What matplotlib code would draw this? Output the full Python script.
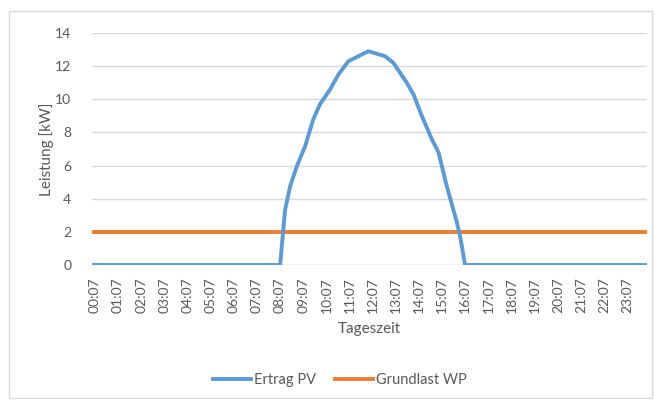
import matplotlib
matplotlib.use("Agg")
import matplotlib.pyplot as plt
from matplotlib.patches import Rectangle
from matplotlib.lines import Line2D

# ---- data (hours of day, kW) ----
pv_hours = [0.0, 8.12, 8.33, 8.55, 8.84, 9.20, 9.55, 9.84, 10.28, 10.64, 11.07,
            11.93, 12.65, 13.01, 13.59, 13.88, 14.24, 14.67, 14.96, 15.32,
            15.75, 15.90, 16.11, 23.95]
pv_kw = [0.0, 0.0, 3.3, 4.75, 5.96, 7.17, 8.79, 9.7, 10.6, 11.5, 12.3,
         12.9, 12.6, 12.2, 11.0, 10.3, 9.0, 7.6, 6.8, 4.75,
         2.6, 1.7, 0.0, 0.0]
wp_hours = [0.0, 23.95]
wp_kw = [2.0, 2.0]

tick_hours = [h + 7 / 60 for h in range(24)]
tick_labels = ["00:07", "01:07", "02:07", "03:07", "04:07", "05:07", "06:07", "07:07",
               "08:07", "09:07", "10:07", "11:07", "12:07", "13:07", "14:07", "15:07",
               "16:07", "17:07", "18:07", "19:07", "20:07", "21:07", "22:07", "23:07"]
y_ticks = [0, 2, 4, 6, 8, 10, 12, 14]

series_names = ["Ertrag PV", "Grundlast WP"]
colors = ["#5B9BD5", "#ED7D31"]

plt.rcParams['font.family'] = ['Lato', 'DejaVu Sans']
W, H = 655, 400
fig = plt.figure(figsize=(W / 100, H / 100), dpi=100)

# outer chart border
fig.patches.append(Rectangle((9 / W, 1 - 398 / H), (652 - 9) / W, (398 - 11) / H,
                             transform=fig.transFigure, fill=False,
                             edgecolor="#D9D9D9", linewidth=1))

ax = fig.add_axes([92 / W, 1 - 265 / H, (647 - 92) / W, (265 - 33) / H])
ax.set_xlim(-0.01, 23.97)
ax.set_ylim(0, 14)
ax.set_yticks(y_ticks)
ax.set_xticks(tick_hours)
ax.set_xticklabels(tick_labels, rotation=90)
ax.grid(axis="y", color="#D9D9D9", linewidth=1)
ax.set_axisbelow(True)
for s in ax.spines.values():
    s.set_visible(False)
ax.axhline(0, color="#D9D9D9", linewidth=1, zorder=1)
ax.tick_params(length=0, colors="#595959", labelsize=10)
ax.tick_params(axis="y", pad=15)
ax.tick_params(axis="x", pad=9)

ax.plot(wp_hours, wp_kw, color=colors[1], linewidth=2.8, solid_capstyle="butt", zorder=3)
ax.plot(pv_hours, pv_kw, color=colors[0], linewidth=2.8, solid_joinstyle="round", zorder=4)

ax.set_ylabel("Leistung [kW]", color="#595959", fontsize=11, labelpad=1)
ax.set_xlabel("Tageszeit", color="#595959", fontsize=11, labelpad=6)

handles = [Line2D([], [], color=c, linewidth=2.8) for c in colors]
fig.legend(handles, series_names, loc="center", bbox_to_anchor=(340 / W, 1 - 380 / H),
           ncol=2, frameon=False, fontsize=10.5, labelcolor="#595959",
           handlelength=2.6, handletextpad=0.2, columnspacing=1.3)

fig.savefig("out.png", dpi=100)
